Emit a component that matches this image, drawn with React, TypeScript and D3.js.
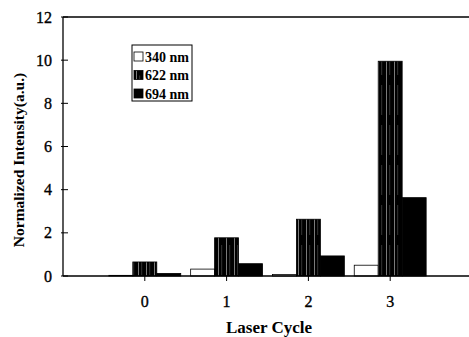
import React from "react";
import * as d3 from "d3";

const categories = [0, 1, 2, 3];
const seriesNames = ["340 nm", "622 nm", "694 nm"];
const values340 = [0.03, 0.32, 0.07, 0.5];
const values622 = [0.65, 1.77, 2.63, 9.95];
const values694 = [0.12, 0.57, 0.93, 3.63];
const yTicks = [0, 2, 4, 6, 8, 10, 12];

const W = 469;
const H = 337;
const M = { left: 63, top: 17, bottom: 276, right: 472 };
const FONT = "'Liberation Serif', 'Times New Roman', serif";

export default function App() {
  const x = d3.scaleLinear().domain([-1, 4]).range([M.left, M.right]);
  const y = d3.scaleLinear().domain([0, 12]).range([M.bottom, M.top]);
  const step = x(1) - x(0);
  const bw = step * 0.293;
  const series = [values340, values622, values694];
  const fills = ["#fff", "url(#streaks)", "#000"];

  return (
    <svg width={W} height={H} style={{ position: "absolute", left: 0, top: 0, background: "#fff" }}>
      <defs>
        <pattern id="streaks" patternUnits="userSpaceOnUse" width="8" height="40">
          <rect width="8" height="40" fill="#000" />
          <rect x="2" width="0.8" height="40" fill="#9a9a9a" />
          <rect x="5.5" y="5" width="0.6" height="30" fill="#555" />
        </pattern>
      </defs>
      <rect width={W} height={H} fill="#fff" />
      {series.map((vals, si) =>
        vals.map((v, ci) => (
          <rect
            key={`${si}-${ci}`}
            x={x(categories[ci]) + (si - 1.5) * bw}
            y={y(v)}
            width={bw}
            height={y(0) - y(v)}
            fill={fills[si]}
            stroke="#000"
            strokeWidth={0.8}
          />
        ))
      )}
      <line x1={M.left} x2={W} y1={M.top} y2={M.top} stroke="#000" strokeWidth={1.3} />
      <line x1={M.left} x2={M.left} y1={M.top} y2={M.bottom} stroke="#000" strokeWidth={1.3} />
      {yTicks.map((t) => (
        <g key={t}>
          <line x1={M.left - 2} x2={M.left + 5} y1={y(t)} y2={y(t)} stroke="#000" strokeWidth={1} />
          <text x={52} y={y(t) + 5.5} textAnchor="end" fontFamily={FONT} fontSize={16} fill="#000" stroke="#000" strokeWidth={0.35}>
            {t}
          </text>
        </g>
      ))}
      <line x1={M.left} x2={W} y1={M.bottom} y2={M.bottom} stroke="#000" strokeWidth={1.3} />
      {categories.map((c) => (
        <g key={c}>
          <line x1={x(c)} x2={x(c)} y1={M.bottom} y2={M.bottom + 5} stroke="#000" strokeWidth={1} />
          <text x={x(c)} y={307} textAnchor="middle" fontFamily={FONT} fontSize={16} fill="#000" stroke="#000" strokeWidth={0.35}>
            {c}
          </text>
        </g>
      ))}
      <text x={269} y={333} textAnchor="middle" fontFamily={FONT} fontSize={17} fontWeight="bold" fill="#000">
        Laser Cycle
      </text>
      <text
        transform={`translate(24,160) rotate(-90)`}
        textAnchor="middle"
        fontFamily={FONT}
        fontSize={15.5}
        fontWeight="bold"
        fill="#000"
      >
        Normalized Intensity(a.u.)
      </text>
      <rect x={132} y={45} width={60} height={56} fill="#fff" stroke="#000" strokeWidth={1} />
      {seriesNames.map((n, i) => (
        <g key={n} transform={`translate(134, ${52 + i * 18.5})`}>
          <rect x={0} y={0} width={9} height={9} fill={fills[i]} stroke="#000" strokeWidth={0.8} />
          <text x={11} y={9.5} fontFamily={FONT} fontSize={14} fontWeight="bold" fill="#000">
            {n}
          </text>
        </g>
      ))}
    </svg>
  );
}
